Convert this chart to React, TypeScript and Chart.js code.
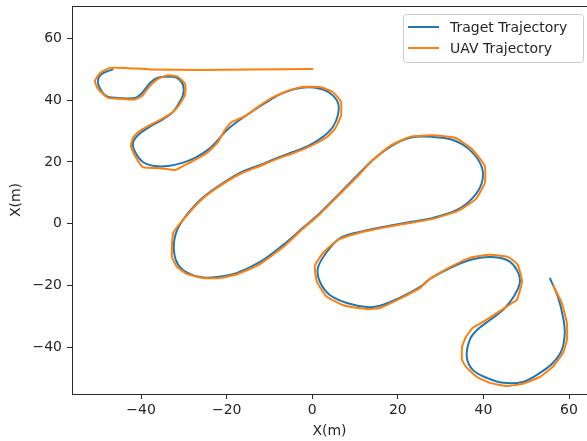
import { useEffect, useRef } from "react";
import { Chart, registerables } from "chart.js";

Chart.register(...registerables);

const seriesLabels = ["Traget Trajectory", "UAV Trajectory"];
const seriesColors = ["#1f77b4", "#ff7f0e"];
const xTicks = [-40, -20, 0, 20, 40, 60];
const yTicks = [-40, -20, 0, 20, 40, 60];
const xAxisLabel = "X(m)";
const yAxisLabel = "X(m)";

const targetX = [
  -46.5, -49.2, -50.1, -49.1, -47.7, -45.4, -41.4, -39.8, -37.9, -36.1,
  -33.7, -31.6, -30.2, -30.2, -31.4, -32.8, -35.1, -38.4, -40.7, -41.9,
  -41.4, -39.6, -36.8, -33.7, -30.4, -27.4, -24.4, -22.7, -20.4, -18.5,
  -14.6, -10.6, -6.8, -2.9, 1.1, 4.1, 6.0, 6.0, 4.8, 2.5,
  -0.5, -4.5, -8.2, -12.2, -16.9, -22.3, -26.2, -30.2, -32.1, -32.1,
  -30.2, -26.2, -22.3, -17.6, -12.2, -6.8, -2.2, 1.8, 6.5, 11.1,
  14.2, 18.2, 22.8, 28.2, 32.9, 36.8, 39.6, 39.6, 37.5, 33.8,
  28.2, 22.8, 16.5, 11.1, 6.5, 3.4, 1.3, 1.8, 4.1, 8.1,
  12.8, 15.8, 20.5, 25.2, 27.5, 32.2, 36.8, 41.5, 45.5, 47.8,
  48.5, 46.9, 44.6, 41.5, 38.5, 36.8, 36.1, 37.5, 40.8, 44.6,
  49.2, 53.2, 56.2, 58.3, 59.0, 58.6, 57.4, 55.5,
];
const targetY = [
  50.0, 48.4, 45.9, 42.6, 41.0, 40.7, 40.7, 42.3, 45.5, 47.2,
  47.5, 47.2, 44.9, 41.7, 38.4, 35.8, 33.6, 31.0, 28.7, 26.1,
  23.2, 20.0, 18.7, 18.7, 19.7, 21.3, 23.9, 26.1, 29.7, 32.0,
  35.8, 39.4, 42.3, 43.9, 43.9, 42.3, 39.1, 35.2, 31.3, 28.1,
  25.5, 23.2, 21.3, 19.0, 16.5, 11.9, 7.7, 1.3, -4.2, -10.7,
  -14.9, -17.2, -17.2, -15.9, -12.3, -6.8, -1.3, 3.5, 10.0, 16.5,
  20.7, 24.9, 27.8, 28.1, 27.1, 23.9, 18.4, 13.2, 8.4, 4.5,
  1.9, 0.6, -1.0, -2.6, -4.6, -9.1, -14.3, -18.8, -23.0, -25.6,
  -26.9, -26.5, -23.9, -20.4, -17.8, -14.3, -11.7, -10.7, -11.7, -14.9,
  -19.1, -23.9, -27.8, -31.1, -34.3, -37.5, -43.0, -47.2, -49.8, -51.4,
  -51.1, -48.2, -45.0, -40.8, -35.3, -30.1, -23.6, -17.5,
];

const uavX = [
  0.2, -14.6, -26.2, -37.9, -43.8, -47.3, -49.6, -50.8, -50.1, -47.7,
  -44.9, -41.4, -39.8, -37.9, -36.1, -33.7, -31.4, -29.7, -29.7, -30.9,
  -32.5, -34.8, -38.4, -40.7, -41.9, -42.4, -41.4, -39.6, -35.6, -32.1,
  -30.2, -27.4, -24.6, -22.0, -20.4, -18.8, -15.7, -12.7, -9.9, -6.4,
  -2.4, 1.8, 4.8, 6.7, 6.7, 5.3, 3.2, -0.3, -4.3, -8.2,
  -12.2, -16.9, -22.3, -26.2, -30.2, -32.5, -32.8, -31.6, -29.3, -25.5,
  -21.6, -17.4, -12.2, -6.8, -2.2, 1.8, 6.5, 11.1, 14.2, 18.2,
  22.8, 28.2, 33.4, 37.3, 40.3, 40.3, 38.2, 34.0, 28.2, 22.8,
  16.5, 11.1, 6.0, 2.7, 0.6, 1.1, 3.4, 7.6, 12.8, 15.8,
  20.5, 25.2, 27.5, 32.2, 36.8, 41.5, 45.7, 48.0, 49.0, 47.8,
  46.7, 43.2, 39.9, 37.5, 35.9, 35.0, 35.0, 36.1, 38.5, 41.5,
  45.5, 49.2, 53.2, 56.2, 58.6, 59.5, 59.5, 58.3, 56.2,
];
const uavY = [
  50.0, 49.9, 49.7, 49.9, 50.4, 50.4, 48.7, 46.2, 43.6, 40.7,
  40.4, 40.2, 41.3, 44.6, 46.8, 48.0, 47.5, 45.2, 42.0, 38.8,
  36.2, 34.2, 31.6, 29.6, 27.7, 25.2, 21.9, 18.3, 18.0, 17.4,
  18.7, 20.7, 22.9, 26.5, 30.4, 32.9, 34.8, 37.8, 40.4, 42.6,
  44.2, 44.2, 42.6, 39.4, 34.9, 30.7, 27.8, 25.2, 22.9, 21.0,
  18.7, 16.1, 11.6, 7.4, 1.3, -2.9, -10.7, -13.9, -16.2, -17.5,
  -17.5, -16.2, -13.0, -7.5, -1.6, 3.2, 9.7, 16.1, 20.7, 25.2,
  28.1, 28.6, 27.8, 24.2, 18.7, 13.2, 8.0, 4.2, 1.6, 0.3,
  -1.3, -2.9, -5.2, -9.1, -13.6, -18.8, -23.6, -26.5, -27.5, -27.2,
  -24.2, -20.7, -17.8, -14.0, -11.0, -10.0, -10.7, -13.2, -18.7, -24.6,
  -25.6, -28.8, -31.7, -33.6, -36.6, -39.8, -44.0, -46.5, -49.5, -51.4,
  -52.4, -51.7, -49.5, -46.2, -41.7, -37.5, -32.0, -25.6, -19.7,
];

const FONT = "'DejaVu Sans', sans-serif";
const TEXT_COLOR = "#262626";
const SPINE_COLOR = "#2a2a2a";

export default function App() {
  const ref = useRef<HTMLCanvasElement>(null);

  useEffect(() => {
    document.body.style.margin = "0";
    const fmt = (v: number | string) => {
      const n = Number(v);
      return n < 0 ? "\u2212" + Math.abs(n) : String(n);
    };

    const framePlugin = {
      id: "frameAndLegend",
      afterDraw(chart: any) {
        const { ctx, chartArea } = chart;
        ctx.save();
        // top spine
        ctx.strokeStyle = SPINE_COLOR;
        ctx.lineWidth = 1;
        ctx.beginPath();
        ctx.moveTo(chartArea.left, Math.round(chartArea.top) + 0.5);
        ctx.lineTo(chartArea.right + 2, Math.round(chartArea.top) + 0.5);
        ctx.stroke();

        // legend
        const bx = 403.5, by = 14.5, bw = 180, bh = 48, r = 3;
        ctx.beginPath();
        ctx.moveTo(bx + r, by);
        ctx.lineTo(bx + bw - r, by);
        ctx.quadraticCurveTo(bx + bw, by, bx + bw, by + r);
        ctx.lineTo(bx + bw, by + bh - r);
        ctx.quadraticCurveTo(bx + bw, by + bh, bx + bw - r, by + bh);
        ctx.lineTo(bx + r, by + bh);
        ctx.quadraticCurveTo(bx, by + bh, bx, by + bh - r);
        ctx.lineTo(bx, by + r);
        ctx.quadraticCurveTo(bx, by, bx + r, by);
        ctx.closePath();
        ctx.fillStyle = "rgba(255,255,255,0.8)";
        ctx.fill();
        ctx.strokeStyle = "#cccccc";
        ctx.lineWidth = 1;
        ctx.stroke();

        seriesLabels.forEach((label, i) => {
          const y = 27 + i * 21;
          ctx.strokeStyle = seriesColors[i];
          ctx.lineWidth = 2;
          ctx.beginPath();
          ctx.moveTo(408, y);
          ctx.lineTo(439, y);
          ctx.stroke();
          ctx.fillStyle = TEXT_COLOR;
          ctx.font = `14px ${FONT}`;
          ctx.textBaseline = "middle";
          ctx.textAlign = "left";
          ctx.fillText(label, 450, y + 1);
        });
        ctx.restore();
      },
    };

    const tickFont = { family: FONT, size: 14 };

    const chart = new Chart(ref.current!, {
      type: "scatter",
      data: {
        datasets: [
          {
            label: seriesLabels[0],
            data: targetX.map((x, i) => ({ x, y: targetY[i] })),
            borderColor: seriesColors[0],
            backgroundColor: seriesColors[0],
            showLine: true,
            pointRadius: 0,
            borderWidth: 2,
            tension: 0.35,
            fill: false,
            order: 1,
          },
          {
            label: seriesLabels[1],
            data: uavX.map((x, i) => ({ x, y: uavY[i] })),
            borderColor: seriesColors[1],
            backgroundColor: seriesColors[1],
            showLine: true,
            pointRadius: 0,
            borderWidth: 2,
            tension: 0.15,
            fill: false,
            order: 0,
          },
        ],
      },
      options: {
        animation: false,
        responsive: false,
        devicePixelRatio: 1,
        layout: { padding: { top: 6, left: 0, right: 0, bottom: 0 } },
        plugins: {
          legend: { display: false },
          tooltip: { enabled: false },
        },
        scales: {
          x: {
            type: "linear",
            min: -56.15,
            max: 64.2,
            afterBuildTicks: (s: any) => {
              s.ticks = xTicks.map((v) => ({ value: v }));
            },
            afterFit: (s: any) => {
              s.height = 47;
              s.paddingLeft = 0;
              s.paddingRight = 0;
            },
            grid: {
              drawOnChartArea: false,
              drawTicks: true,
              tickLength: 5,
              tickColor: SPINE_COLOR,
            },
            border: { display: true, color: SPINE_COLOR, width: 1 },
            ticks: {
              font: tickFont,
              color: TEXT_COLOR,
              padding: 3,
              maxRotation: 0,
              autoSkip: false,
              callback: fmt,
            },
            title: {
              display: true,
              text: xAxisLabel,
              color: TEXT_COLOR,
              font: tickFont,
              padding: { top: 0, bottom: 1 },
            },
          },
          y: {
            type: "linear",
            min: -55.0,
            max: 70.4,
            afterBuildTicks: (s: any) => {
              s.ticks = yTicks.map((v) => ({ value: v }));
            },
            afterFit: (s: any) => {
              s.width = 72;
              s.paddingTop = 0;
              s.paddingBottom = 0;
            },
            grid: {
              drawOnChartArea: false,
              drawTicks: true,
              tickLength: 5,
              tickColor: SPINE_COLOR,
            },
            border: { display: true, color: SPINE_COLOR, width: 1 },
            ticks: {
              font: tickFont,
              color: TEXT_COLOR,
              padding: 5,
              autoSkip: false,
              callback: fmt,
            },
            title: {
              display: true,
              text: yAxisLabel,
              color: TEXT_COLOR,
              font: tickFont,
              padding: { top: 8, bottom: 0 },
            },
          },
        },
      },
      plugins: [framePlugin],
    });

    return () => chart.destroy();
  }, []);

  return (
    <canvas
      ref={ref}
      width={587}
      height={441}
      style={{ display: "block", width: 587, height: 441 }}
    />
  );
}
